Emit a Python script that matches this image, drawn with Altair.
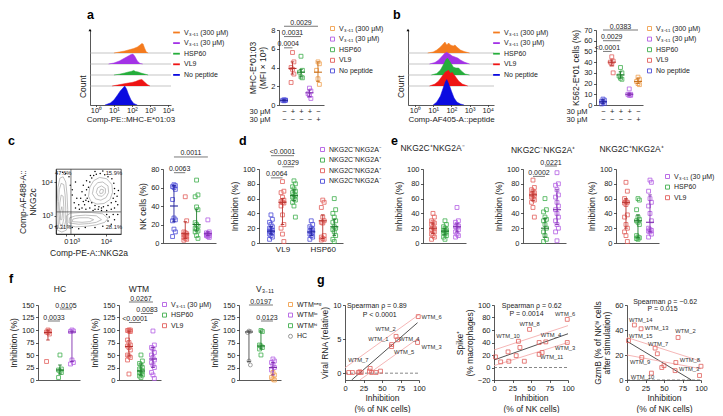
import json
import altair as alt
import pandas as pd

FONT = "Liberation Sans"
INK = "#1c1c1c"

V30 = "V₃₋₁₁ (30 μM)"
V300 = "V₃₋₁₁ (300 μM)"
NOPEP = "No peptide"
C_PN = "NKG2C⁺NKG2A⁻"
C_PP = "NKG2C⁺NKG2A⁺"
C_NP = "NKG2C⁻NKG2A⁺"
C_NN = "NKG2C⁻NKG2A⁻"
W_NEG = "WTMⁿᵉᵍ"
W_LO = "WTMˡᵒ"
W_HI = "WTMʰⁱ"

# point colour, error-bar colour
PAL = {
    NOPEP: ("#4d4dd8", "#23239c"), "VL9": ("#e25f5c", "#b8322e"),
    "HSP60": ("#3fae4d", "#1f7a2c"), V30: ("#b25de3", "#7f2fae"),
    V300: ("#f0a04e", "#c9731f"), C_PN: ("#4d4dd8", "#23239c"),
    C_PP: ("#e25f5c", "#b8322e"), C_NP: ("#3fae4d", "#1f7a2c"),
    C_NN: ("#b25de3", "#7f2fae"), W_NEG: ("#f0a04e", "#c9731f"),
    W_LO: ("#b25de3", "#7f2fae"), W_HI: ("#3fae4d", "#1f7a2c"),
    "HC": ("#8a8a8a", "#4a4a4a"),
}

# ---------------- histograms (a, b) ----------------
HIST_ORDER = [V300, V30, "HSP60", "VL9", NOPEP]
HIST_FILL = ["#f47b1e", "#a332e6", "#25ad3b", "#ee1414", "#0b0be0"]
HIST_BASE = [52, 41, 30, 19, 0]

ha_x = {
    V300: [1.0, 1.3, 1.6, 1.9, 2.1, 2.3, 2.45, 2.55, 2.62, 2.7, 2.8, 2.9],
    V30: [0.7, 1.0, 1.3, 1.5, 1.7, 1.85, 1.95, 2.05, 2.15, 2.3, 2.45, 2.6],
    "HSP60": [1.0, 1.3, 1.6, 1.8, 1.95, 2.1, 2.2, 2.35, 2.5, 2.7, 2.9],
    "VL9": [0.9, 1.2, 1.5, 1.8, 2.0, 2.2, 2.4, 2.55, 2.7, 2.85, 3.0],
    NOPEP: [0.5, 0.8, 1.0, 1.2, 1.35, 1.5, 1.6, 1.7, 1.8, 1.95, 2.1, 2.3],
}
ha_h = {
    V300: [0, 1, 2, 3.5, 4.5, 6, 8, 9.5, 9, 5, 1, 0],
    V30: [0, 1, 3, 5, 7, 8.5, 9.5, 10, 8, 3, 0.5, 0],
    "HSP60": [0, 0.8, 2, 3, 3.5, 4.5, 3.5, 3, 2, 1, 0],
    "VL9": [0, 1, 2, 3, 3.5, 4.5, 6, 6.5, 4, 1.5, 0],
    NOPEP: [0, 2, 5, 10, 14, 17, 19, 16, 11, 5, 1.5, 0],
}
hb_x = {
    V300: [0.7, 1.0, 1.2, 1.4, 1.55, 1.65, 1.75, 1.85, 1.95, 2.1, 2.2, 2.3, 2.5, 2.7, 3.0],
    V30: [0.8, 1.1, 1.3, 1.5, 1.65, 1.75, 1.9, 2.05, 2.2, 2.35, 2.5, 2.7, 3.0],
    "HSP60": [0.9, 1.2, 1.4, 1.55, 1.7, 1.8, 1.95, 2.1, 2.25, 2.4, 2.55, 2.75, 3.0],
    "VL9": [0.8, 1.1, 1.3, 1.5, 1.65, 1.75, 1.85, 1.95, 2.05, 2.2, 2.4, 2.6, 2.9],
    NOPEP: [1.0, 1.2, 1.4, 1.55, 1.65, 1.75, 1.85, 2.0, 2.15, 2.3, 2.5, 2.7],
}
hb_h = {
    V300: [0, 1, 3, 6, 9, 11, 8, 10, 8, 7, 8, 6, 3, 1.5, 0],
    V30: [0, 1.5, 4, 8, 11, 12, 10, 8, 7, 6, 4, 2, 0],
    "HSP60": [0, 1.5, 5, 10, 16, 17, 13, 8, 7, 7, 4, 1, 0],
    "VL9": [0, 2, 5, 10, 14, 15, 16, 13, 14, 10, 5, 2, 0],
    NOPEP: [0, 3, 9, 17, 23, 26, 22, 14, 7, 3, 1, 0],
}
SUP = ["⁰", "¹", "²", "³", "⁴"]

# ---------------- dot plots a, b ----------------
ab_cats = [NOPEP, "VL9", "HSP60", V30, V300]
ab_x = [1, 2, 3, 4, 5]
ab_legend = [V300, V30, "HSP60", "VL9", NOPEP]
sign_row1 = ["−", "+", "+", "+", "−"]
sign_row2 = ["−", "−", "−", "−", "+"]
conc_label = "30 μM"

a_vals = [[0.45, 0.5, 0.5, 0.55, 0.52], [5.6, 4.6, 4.0, 3.8, 3.3, 2.4], [5.2, 3.7, 3.5, 3.0, 2.9],
          [1.8, 1.5, 1.2, 1.0, 0.7], [4.6, 4.4, 3.7, 2.8, 2.2]]
a_c = [0.5, 3.9, 3.5, 1.3, 3.5]
a_lo = [0.45, 3.3, 3.0, 0.9, 2.5]
a_hi = [0.55, 4.6, 3.8, 1.6, 4.6]
a_br = {"a": [1, 1, 1], "b": [2, 3, 5], "y": [6.1, 7.3, 8.4], "lab": ["0.0004", "0.0031", "0.0029"]}

b_vals = [[5.5, 4.5, 3.5, 2.5, 1.5, 1.0], [45, 41, 40, 38, 30], [35, 30, 27, 25, 24],
          [15, 10, 10, 9, 9], [26, 24, 22, 20, 19]]
b_c = [3, 40, 28, 10, 22]
b_lo = [1.5, 37, 25, 9, 20]
b_hi = [5, 42, 31, 11, 25]
b_br = {"a": [1, 1, 1], "b": [2, 3, 5], "y": [50, 60, 70], "lab": ["<0.0001", "0.0029", "0.0383"]}

# ---------------- c ----------------
c_rings = [
    [(2, 6), (1, 25), (2, 50), (3, 72), (6, 86), (11, 88), (15, 80), (17, 60), (18, 38), (18, 18), (16, 6), (9, 3)],
    [(4, 10), (3, 28), (4, 50), (5, 68), (8, 78), (12, 76), (14, 60), (15, 40), (15, 20), (12, 9), (7, 8)],
    [(6, 15), (5, 30), (6, 48), (8, 60), (11, 58), (12, 42), (12, 24), (10, 14)],
    [(7, 22), (7, 35), (9, 42), (10, 32), (9, 22)],
    [(16, 14), (30, 11), (48, 12), (62, 14), (75, 18), (80, 24), (72, 31), (55, 33), (38, 33), (22, 32), (16, 28)],
    [(20, 17), (35, 15), (50, 16), (62, 18), (70, 22), (62, 28), (45, 29), (30, 28), (21, 25)],
    [(25, 19), (40, 18), (52, 19), (58, 22), (50, 25), (36, 25), (26, 23)],
    [(50, 58), (52, 72), (58, 82), (67, 87), (78, 85), (86, 76), (87, 64), (83, 53), (74, 47), (63, 46), (54, 50)],
    [(56, 62), (58, 72), (64, 79), (72, 80), (80, 74), (81, 64), (77, 56), (69, 52), (61, 54)],
    [(62, 64), (64, 71), (70, 74), (76, 70), (76, 63), (71, 58), (65, 59)],
    [(67, 65), (69, 69), (73, 68), (72, 63), (68, 62)],
]
c_dot_x = [45, 47, 48, 50, 52, 55, 58, 62, 68, 75, 80, 86, 89, 90, 90, 88, 85, 80, 73, 66, 60, 55, 50, 46,
           44, 40, 36, 35, 42, 38, 92, 95, 90, 85, 78, 70, 60, 52, 46, 30, 28, 32, 25, 40, 42, 47, 53, 94,
           96, 60, 72, 20, 22, 25, 30, 10, 15, 78, 82, 88, 80, 72, 60, 45, 85, 90, 95, 35, 25, 65, 70, 57]
c_dot_y = [60, 68, 55, 72, 80, 86, 90, 92, 93, 91, 88, 85, 78, 70, 62, 55, 48, 44, 42, 42, 44, 48, 50, 52,
           45, 40, 38, 45, 50, 55, 50, 45, 40, 38, 36, 36, 38, 40, 38, 40, 48, 55, 60, 65, 75, 82, 90, 58,
           67, 96, 97, 88, 75, 68, 80, 95, 93, 30, 26, 30, 20, 12, 10, 10, 15, 22, 30, 8, 10, 38, 40, 36]
c_gate_x = [23]
c_gate_y = [34]
c_pct = ["47.6%", "15.9%", "6.31%", "28.1%"]
c_pct_x = [11, 89, 11, 89]
c_pct_y = [94, 94, 11, 11]
c_xt, c_xl = [15, 28, 77], ["0", "10³", "10⁴"]
c_yt, c_yl = [12, 28, 80], ["0", "10³", "10⁴"]

nk_cats = [C_PN, C_PP, C_NP, C_NN]
nk_vals = [[63, 62, 61, 60, 58, 47, 27, 25, 24, 15, 12, 7],
           [50, 24, 12, 11, 10, 9, 8, 7, 6, 5, 4, 3],
           [68, 52, 50, 39, 36, 22, 20, 18, 16, 15, 13, 12, 8, 5],
           [25, 12, 11, 10, 10, 9, 9, 8, 8, 7, 6]]
nk_c = [40, 10, 20, 10]
nk_lo = [23, 5, 13, 8]
nk_hi = [62, 23, 36, 12]
nk_br = {"a": [1, 1], "b": [2, 4], "y": [76, 93], "lab": ["0.0063", "0.0011"]}

# ---------------- d ----------------
d_cats = [C_PN, C_PP, C_NP, C_PN, C_PP, C_NP]
d_x = [1, 2, 3, 4.5, 5.5, 6.5]
d_cond = ["VL9", "HSP60"]
d_cond_x = [2, 5.5]
d_vals = [[38, 32, 28, 25, 22, 20, 19, 17, 16, 15, 14, 12, 10, 8, 5],
          [83, 70, 68, 62, 58, 56, 55, 54, 50, 38, 25, 20, 12, 2],
          [84, 80, 76, 73, 70, 68, 66, 64, 62, 60, 58, 55, 50, 35],
          [30, 25, 22, 20, 18, 16, 15, 14, 12, 10, 8, 5],
          [58, 55, 48, 35, 30, 28, 27, 10, 8, 6, 5, 4],
          [60, 45, 40, 35, 30, 28, 22, 20, 18, 15, 10, 5, 2]]
d_c = [16, 55, 64, 15, 30, 22]
d_lo = [12, 25, 57, 10, 6, 10]
d_hi = [22, 60, 72, 20, 38, 32]
d_legend = [C_NN, C_NP, C_PP, C_PN]
d_br = {"a": [1, 2, 1], "b": [2, 3, 3], "y": [88, 103, 118], "lab": ["0.0064", "0.0329", "<0.0001"]}

# ---------------- e ----------------
e_cats = ["VL9", "HSP60", V30]
e_legend = [V30, "HSP60", "VL9"]
e1_vals = [[40, 35, 30, 28, 27, 25, 22, 20, 18, 16, 15, 12, 10, 8, 5],
           [30, 25, 22, 20, 18, 17, 16, 15, 14, 12, 10, 8, 5],
           [48, 30, 28, 25, 23, 22, 20, 18, 15, 12, 10, 8]]
e1_c, e1_lo, e1_hi = [20, 16, 22], [13, 11, 15], [27, 20, 26]
e2_vals = [[85, 75, 72, 70, 68, 66, 65, 64, 62, 60, 58, 55, 48, 35],
           [60, 45, 42, 35, 32, 30, 25, 20, 15, 10, 5, 2],
           [95, 80, 78, 72, 65, 62, 55, 50, 45, 40, 35, 30, 25, 20, 15, 3]]
e2_c, e2_lo, e2_hi = [65, 20, 45], [57, 8, 25], [70, 33, 72]
e2_br = {"a": [1, 2], "b": [2, 3], "y": [90, 104], "lab": ["0.0002", "0.0221"]}
e3_vals = [[82, 70, 60, 56, 55, 54, 52, 38, 35, 25, 20, 15, 10, 2],
           [60, 58, 45, 35, 32, 30, 28, 25, 10, 8, 7, 6, 5],
           [85, 82, 70, 60, 55, 50, 40, 30, 20, 18, 17, 16, 15, 12, 8]]
e3_c, e3_lo, e3_hi = [55, 30, 28], [20, 7, 15], [60, 38, 65]
e_titles = ["NKG2C⁺NKG2A⁻", "NKG2C⁻NKG2A⁺", "NKG2C⁺NKG2A⁺"]

# ---------------- f ----------------
f1_vals = [[100, 98, 96, 95, 92, 37], [50, 22, 20, 18, 15, 5], [100, 98, 97, 40, 35, 32]]
f1_c, f1_lo, f1_hi = [95, 20, 96], [80, 12, 37], [100, 30, 98]
f1_br = {"a": [1, 2], "b": [2, 3], "y": [118, 142], "lab": ["0.0033", "0.0105"]}
f2_vals = [[100, 100, 99, 98, 97, 80, 75, 70, 68, 65, 60, 50, 48, 45, 40, 12],
           [50, 38, 33, 30, 25, 22, 20, 18, 15, 12, 10, 8, 5],
           [98, 70, 65, 62, 55, 50, 45, 40, 35, 30, 25, 15, 10, 3]]
f2_c, f2_lo, f2_hi = [67, 18, 42], [48, 10, 25], [98, 32, 65]
f2_br = {"a": [1, 2, 1], "b": [2, 3, 3], "y": [115, 133, 156], "lab": ["<0.0001", "0.0083", "0.0267"]}
f3_cats = ["HC", W_HI, W_LO, W_NEG]
f3_x = [1, 2, 3, 3]
f3_vals = [[98, 97, 95, 38, 30], [99, 97, 70, 68, 65, 62, 50], [42, 38, 35, 30, 25, 20], [15, 10, 5, 2, 0]]
f3_scats = ["HC", W_HI, W_LO]
f3_c, f3_lo, f3_hi = [96, 68, 25], [37, 62, 10], [98, 98, 35]
f3_legend = [W_NEG, W_LO, W_HI, "HC"]
f3_shapes = {W_NEG: "square", W_LO: "square", W_HI: "square", "HC": "circle"}
f3_br = {"a": [2, 1], "b": [3, 3], "y": [118, 150], "lab": ["0.0123", "0.0197"]}
f_titles = ["HC", "WTM", "V₃₋₁₁"]

# ---------------- g ----------------
g1_x = [99, 69, 71, 63, 63, 98, 34, 5, 10, 18, 20, 22, 33, 36, 42, 48]
g1_y = [8.3, 5.4, 4.9, 4.2, 3.9, 4.5, 0.7, 0.1, 0.1, 0.1, 0.2, 0.1, 0.3, 0.1, 0.1, 0.3]
g1_lab = ["WTM_6", "WTM_2", "WTM_4", "WTM_1", "WTM_5", "WTM_3", "WTM_7"]
g1_lab_x = [117, 55, 87, 45, 80, 117, 18]
g1_lab_y = [8.2, 6.5, 5.0, 5.0, 3.1, 3.9, 1.9]
g1_lines = {"fit": [(9, -1), (98, 7.4)], "up": [(0, 0.8), (100, 8.6)], "lo": [(20, -1), (100, 5.2)]}
g1_stats = ["Spearman ρ = 0.89", "P < 0.0001"]
g1_stats_x, g1_stats_y = [43, 47], [9.8, 8.5]

g2_x = [99, 48, 33, 70, 99, 65, 2, 9, 19, 20, 30, 35, 41, 61, 61]
g2_y = [77, 61, 42, 41, 40, 24, 17, 9, 25, 10, 19, 32, 10, 40, 21]
g2_lab = ["WTM_6", "WTM_8", "WTM_10", "WTM_4", "WTM_3", "WTM_11"]
g2_lab_x = [96, 48, 19, 77, 96, 78]
g2_lab_y = [86, 70, 51, 52, 31, 17]
g2_lines = {"fit": [(0, 12), (100, 54)], "up": [(0, 28), (100, 67)], "lo": [(0, 3), (100, 40)]}
g2_stats = ["Spearman ρ = 0.62", "P = 0.0014"]
g2_stats_x, g2_stats_y = [51, 44], [99, 86]

g3_x = [10, 19, 69, 2, 38, 41, 100, 20, 98, 33, 47, 50, 65, 66]
g3_y = [44, 41, 34, 31.5, 25.5, 21, 11, 18, 3.6, 5.5, 10, 11.5, 7.5, 14]
g3_lab = ["WTM_14", "WTM_13", "WTM_2", "WTM_15", "WTM_7", "WTM_8", "WTM_9", "WTM_3", "WTM_10"]
g3_lab_x = [18.5, 40, 79, 18.5, 42, 85, 17.6, 84, 21]
g3_lab_y = [48, 41.6, 39, 35.3, 28.7, 16, 14.2, 8.8, 2.5]
g3_lines = {"fit": [(0, 31), (87, 0)], "up": [(0, 34), (100, 15)], "lo": [(0, 20), (100, 9)]}
g3_stats = ["Spearman ρ = −0.62", "P = 0.015"]
g3_stats_x, g3_stats_y = [51.5, 48], [62.5, 57]


# =================== builders ===================
def spacer(w, h, title=None):
    df = pd.DataFrame({"v": [0.0]})
    ch = alt.Chart(df).mark_point(opacity=0).encode(
        x=alt.X("v:Q", axis=None, scale=alt.Scale(domain=[-1, 1])),
        y=alt.Y("v:Q", axis=None, scale=alt.Scale(domain=[-1, 1])),
    )
    if title is not None:
        return ch.properties(width=w, height=h, title=title)
    return ch.properties(width=w, height=h)


def letter(t, anchor, dx, offset):
    return alt.TitleParams(text=t, anchor=anchor, frame="group", dx=dx, offset=offset,
                           baseline="alphabetic", align="left", fontSize=12.5,
                           fontWeight="bold", color="#000000")


def ptitle(t, anchor, dx, offset):
    return alt.TitleParams(text=t, anchor=anchor, frame="group", dx=dx, offset=offset,
                           baseline="alphabetic", align="center", fontSize=8.5,
                           fontWeight="normal", color=INK)


def legend_at(x, y, stroke=False):
    kw = dict(orient="none", legendX=x, legendY=y, title=None, labelFontSize=7,
              rowPadding=1.6, labelOffset=3, labelColor=INK, labelLimit=0, padding=0)
    if stroke:
        kw.update(symbolType="stroke", symbolStrokeWidth=1.8, symbolSize=45)
    else:
        kw.update(symbolSize=16, symbolStrokeWidth=0.9)
    return alt.Legend(**kw)


def tern(vals, labs):
    expr = json.dumps(labs[-1], ensure_ascii=False)
    for v, l in reversed(list(zip(vals[:-1], labs[:-1]))):
        expr = f"datum.value == {v} ? {json.dumps(l, ensure_ascii=False)} : ({expr})"
    return expr


def hist_chart(xs, hs, xdom, xtitle, leg_x, w, h=75):
    xsc = alt.Scale(domain=xdom, nice=False, zero=False)
    ysc = alt.Scale(domain=[0, 75], nice=False, zero=False)
    xax = alt.Axis(values=[0, 1, 2, 3, 4],
                   labelExpr="'10' + " + json.dumps(SUP, ensure_ascii=False) + "[datum.value]",
                   title=xtitle, tickSize=1.5, labelPadding=0, titlePadding=1, titleFontSize=8)
    yax = alt.Axis(title="Count", labels=False, ticks=False, titleX=-3, titleY=h * 0.75)
    cscale = alt.Scale(domain=HIST_ORDER, range=HIST_FILL)
    rows = []
    for s, b in zip(HIST_ORDER, HIST_BASE):
        for x, hh in zip(xs[s], hs[s]):
            rows.append({"s": s, "x": x, "b": b, "top": b + hh})
    df = pd.DataFrame(rows)
    X = alt.X("x:Q", scale=xsc, axis=xax)
    layers = [
        alt.Chart(pd.DataFrame({"b": HIST_BASE[:-1]})).mark_rule(color="#a0a0a0", strokeWidth=0.6)
        .encode(y=alt.Y("b:Q", scale=ysc, axis=yax)),
        alt.Chart(df).mark_line(strokeWidth=0.5).encode(
            x=X, y=alt.Y("top:Q", scale=ysc, axis=yax),
            color=alt.Color("s:N", scale=cscale, legend=legend_at(leg_x, -2, stroke=True))),
    ]
    for s in HIST_ORDER:
        layers.append(alt.Chart(df[df.s == s]).mark_area(opacity=1).encode(
            x=X, y=alt.Y("top:Q", scale=ysc, axis=yax), y2="b:Q",
            color=alt.Color("s:N", scale=cscale, legend=None)))
    arrow = pd.DataFrame({"x": [xdom[0]], "y": [75]})
    layers.append(alt.Chart(arrow).mark_point(shape="triangle-up", filled=True, size=9,
                                              color="#000", opacity=1)
                  .encode(x=X, y=alt.Y("y:Q", scale=ysc, axis=yax)))
    return alt.layer(*layers).properties(width=w, height=h)


def dot_chart(cats, xpos, vals, s_cats, s_x, s_c, s_lo, s_hi, br, xdom, ydom, yticks, w, h,
              ytitle, xaxis=None, leg_dom=None, leg_xy=None, shapes=None, title=None):
    ppu = w / (xdom[1] - xdom[0])
    hw, cap, jit = 4.0 / ppu, 1.8 / ppu, 1.4 / ppu
    xsc = alt.Scale(domain=xdom, nice=False, zero=False)
    ysc = alt.Scale(domain=ydom, nice=False, zero=False)
    if xaxis is None:
        xaxis = alt.Axis(labels=False, ticks=False, title=None)
    yax = alt.Axis(values=yticks, title=ytitle)
    dom = leg_dom if leg_dom else list(dict.fromkeys(cats))
    cscale = alt.Scale(domain=dom, range=[PAL[c][0] for c in dom])
    sscale = alt.Scale(domain=dom, range=[PAL[c][1] for c in dom])

    def X(f):
        return alt.X(f, type="quantitative", scale=xsc, axis=xaxis)

    def Y(f):
        return alt.Y(f, type="quantitative", scale=ysc, axis=yax)

    pts = pd.DataFrame([{"cat": c, "x": x, "v": v} for c, x, vs in zip(cats, xpos, vals) for v in vs])
    summ = pd.DataFrame({"cat": s_cats, "x": s_x, "c": s_c, "lo": s_lo, "hi": s_hi})
    brd = pd.DataFrame(br)
    leg = legend_at(*leg_xy) if leg_xy else None
    enc = dict(x=X("xj"), y=Y("v"), color=alt.Color("cat:N", scale=cscale, legend=leg))
    if shapes:
        enc["shape"] = alt.Shape("cat:N", scale=alt.Scale(domain=dom, range=[shapes[c] for c in dom]),
                                 legend=leg)
        pm = dict(filled=False, size=15, strokeWidth=0.8, opacity=1)
    else:
        pm = dict(filled=False, size=15, strokeWidth=0.8, opacity=1, shape="square")
    points = (alt.Chart(pts)
              .transform_window(rn="row_number()", groupby=["x"])
              .transform_calculate(xj=f"datum.x + ((datum.rn % 3) - 1) * {jit:.4f}")
              .mark_point(**pm).encode(**enc))
    stroke = alt.Stroke("cat:N", scale=sscale, legend=None)
    S = alt.Chart(summ)
    vbar = S.mark_rule(strokeWidth=0.9).encode(x=X("x"), y=Y("lo"), y2="hi", stroke=stroke)
    cl = (S.transform_calculate(x1=f"datum.x - {hw:.4f}", x2=f"datum.x + {hw:.4f}")
          .mark_rule(strokeWidth=1.1).encode(x=X("x1"), x2="x2", y=Y("c"), stroke=stroke))
    capl = (S.transform_calculate(x1=f"datum.x - {cap:.4f}", x2=f"datum.x + {cap:.4f}")
            .mark_rule(strokeWidth=0.9).encode(x=X("x1"), x2="x2", y=Y("lo"), stroke=stroke))
    caph = (S.transform_calculate(x1=f"datum.x - {cap:.4f}", x2=f"datum.x + {cap:.4f}")
            .mark_rule(strokeWidth=0.9).encode(x=X("x1"), x2="x2", y=Y("hi"), stroke=stroke))
    layers = [points, vbar, cl, capl, caph]
    if len(brd):
        B = alt.Chart(brd)
        layers.append(B.mark_rule(color=INK, strokeWidth=0.6).encode(x=X("a"), x2="b", y=Y("y")))
        layers.append(B.transform_calculate(m="(datum.a + datum.b) / 2")
                      .mark_text(fontSize=7, baseline="bottom", dy=-0.5, color=INK)
                      .encode(x=X("m"), y=Y("y"), text="lab:N"))
    ch = alt.layer(*layers)
    if title is not None:
        return ch.properties(width=w, height=h, title=title)
    return ch.properties(width=w, height=h)


def sign_axis(s1, s2):
    arr = [[p, q] for p, q in zip(s1, s2)]
    return alt.Axis(values=list(range(1, len(s1) + 1)),
                    labelExpr=json.dumps(arr, ensure_ascii=False) + "[datum.value - 1]",
                    labelLineHeight=8, labelBaseline="top", labelPadding=2, ticks=False, tickSize=0,
                    labelFontSize=7.5, title=[conc_label, conc_label], titleX=-9, titleY=2,
                    titleAlign="right", titleBaseline="top", titleFontSize=7.5,
                    titleFontWeight="normal", titleLineHeight=8, titleAngle=0)


def contour_chart(w, h):
    xsc = alt.Scale(domain=[0, 100], nice=False, zero=False)
    ysc = alt.Scale(domain=[0, 100], nice=False, zero=False)
    xax = alt.Axis(values=c_xt, labelExpr=tern(c_xt, c_xl), title="Comp-PE-A::NKG2a",
                   labelOverlap=False, tickSize=2)
    yax = alt.Axis(values=c_yt, labelExpr=tern(c_yt, c_yl), title=["Comp-AF488-A::", "NKG2c"],
                   labelOverlap=False, tickSize=2)
    X = lambda f: alt.X(f, type="quantitative", scale=xsc, axis=xax)
    Y = lambda f: alt.Y(f, type="quantitative", scale=ysc, axis=yax)
    rows = [{"ring": i, "o": k, "x": x, "y": y} for i, r in enumerate(c_rings) for k, (x, y) in enumerate(r)]
    rings = alt.Chart(pd.DataFrame(rows)).mark_line(interpolate="linear-closed", color="#a5a5a5",
                                                     strokeWidth=0.7).encode(
        x=X("x"), y=Y("y"), detail="ring:N", order="o:Q")
    dots = alt.Chart(pd.DataFrame({"x": c_dot_x, "y": c_dot_y})).mark_circle(
        size=2.2, color="#000", opacity=1).encode(x=X("x"), y=Y("y"))
    gx = alt.Chart(pd.DataFrame({"x": c_gate_x})).mark_rule(color="#444", strokeWidth=0.7).encode(x=X("x"))
    gy = alt.Chart(pd.DataFrame({"y": c_gate_y})).mark_rule(color="#444", strokeWidth=0.7).encode(y=Y("y"))
    pct = alt.Chart(pd.DataFrame({"t": c_pct, "x": c_pct_x, "y": c_pct_y})).mark_text(
        fontSize=5.8, color=INK).encode(x=X("x"), y=Y("y"), text="t:N")
    return alt.layer(rings, dots, gx, gy, pct).properties(
        width=w, height=h, view=alt.ViewBackground(stroke="#111", strokeWidth=0.7))


def g_chart(px, py, lab, lab_x, lab_y, lines, stats, sx, sy, ydom, yvals, ytitle, w, h, title=None):
    xsc = alt.Scale(domain=[0, 100], nice=False, zero=False)
    ysc = alt.Scale(domain=ydom, nice=False, zero=False)
    xax = alt.Axis(values=[0, 25, 50, 75, 100], title=["Inhibition", "(% of NK cells)"],
                   titleLineHeight=10.5, titlePadding=2, titleFontSize=8.5)
    yax = alt.Axis(values=yvals, title=ytitle, titleLineHeight=9.5)
    X = lambda f: alt.X(f, type="quantitative", scale=xsc, axis=xax)
    Y = lambda f: alt.Y(f, type="quantitative", scale=ysc, axis=yax)
    zero = alt.Chart(pd.DataFrame({"x0": [0], "x1": [100], "y": [0]})).mark_rule(
        color="#555", strokeWidth=0.7, strokeDash=[3, 2]).encode(x=X("x0"), x2="x1", y=Y("y"))
    lrows = [{"line": k, "x": x, "y": y} for k, seg in lines.items() for (x, y) in seg]
    lns = alt.Chart(pd.DataFrame(lrows)).mark_line(clip=True, strokeWidth=0.8).encode(
        x=X("x"), y=Y("y"), detail="line:N",
        stroke=alt.Stroke("line:N", scale=alt.Scale(domain=["fit", "up", "lo"],
                                                    range=["#262626", "#f2a3a3", "#f2a3a3"]), legend=None))
    pts = alt.Chart(pd.DataFrame({"x": px, "y": py})).mark_point(
        shape="square", filled=False, size=15, strokeWidth=0.8, color="#e0605c", opacity=1).encode(
        x=X("x"), y=Y("y"))
    labs = alt.Chart(pd.DataFrame({"t": lab, "x": lab_x, "y": lab_y})).mark_text(
        fontSize=5.8, color="#333").encode(x=X("x"), y=Y("y"), text="t:N")
    st = alt.Chart(pd.DataFrame({"t": stats, "x": sx, "y": sy})).mark_text(
        fontSize=7, color=INK).encode(x=X("x"), y=Y("y"), text="t:N")
    ch = alt.layer(zero, lns, pts, labs, st)
    if title is not None:
        return ch.properties(width=w, height=h, title=title)
    return ch.properties(width=w, height=h)


# =================== panels ===================
H1, H2, H3 = 75, 74, 75

histA = hist_chart(ha_x, ha_h, [-0.33, 4.17], "Comp-PE::MHC-E*01:03", 82, 81)
histB = hist_chart(hb_x, hb_h, [-0.38, 4.34], "Comp-AF405-A::peptide", 84, 86)
dotA = dot_chart(ab_cats, ab_x, a_vals, ab_cats, ab_x, a_c, a_lo, a_hi, a_br, [0.41, 5.71], [0, 8],
                 [0, 2, 4, 6, 8], 45, H1, ["MHC-E*01:03", "(MFI × 10³)"],
                 xaxis=sign_axis(sign_row1, sign_row2), leg_dom=ab_legend, leg_xy=(50, -5))
dotB = dot_chart(ab_cats, ab_x, b_vals, ab_cats, ab_x, b_c, b_lo, b_hi, b_br, [0.2, 5.57], [0, 70],
                 list(range(0, 71, 10)), 47, H1, "K562-E*01 cells (%)",
                 xaxis=sign_axis(sign_row1, sign_row2), leg_dom=ab_legend, leg_xy=(50, -5))

contour = contour_chart(65, 65)
dotC = dot_chart(nk_cats, [1, 2, 3, 4], nk_vals, nk_cats, [1, 2, 3, 4], nk_c, nk_lo, nk_hi, nk_br,
                 [0.03, 4.72], [0, 80], [0, 20, 40, 60, 80], 53, H2, "NK cells (%)")
d_axis = alt.Axis(values=d_cond_x, labelExpr=tern(d_cond_x, d_cond), ticks=False, tickSize=0,
                  title=None, labelFontSize=8, labelPadding=2)
dotD = dot_chart(d_cats, d_x, d_vals, d_cats, d_x, d_c, d_lo, d_hi, d_br, [-0.04, 7.26], [0, 100],
                 [0, 20, 40, 60, 80, 100], 84, H2, "Inhibition (%)", xaxis=d_axis,
                 leg_dom=d_legend, leg_xy=(60, -23))
EX = [1, 2, 3]
EDOM = [0.17, 3.75]
empty_br = {"a": [], "b": [], "y": [], "lab": []}
e1 = dot_chart(e_cats, EX, e1_vals, e_cats, EX, e1_c, e1_lo, e1_hi, empty_br, EDOM, [0, 100],
               [0, 20, 40, 60, 80, 100], 43, H2, "Inhibition (%)", leg_dom=e_legend,
               title=ptitle(e_titles[0], "middle", -12, 6))
e2 = dot_chart(e_cats, EX, e2_vals, e_cats, EX, e2_c, e2_lo, e2_hi, e2_br, EDOM, [0, 100],
               [0, 20, 40, 60, 80, 100], 43, H2, "Inhibition (%)", leg_dom=e_legend)
e3 = dot_chart(e_cats, EX, e3_vals, e_cats, EX, e3_c, e3_lo, e3_hi, empty_br, EDOM, [0, 100],
               [0, 20, 40, 60, 80, 100], 43, H2, "Inhibition (%)", leg_dom=e_legend, leg_xy=(48, 4),
               title=ptitle(e_titles[2], "middle", -6, 5))

FDOM = [0.17, 3.67]
FT = [0, 25, 50, 75, 100, 125, 150]
f1 = dot_chart(e_cats, EX, f1_vals, e_cats, EX, f1_c, f1_lo, f1_hi, f1_br, FDOM, [0, 150], FT, 42, H3,
               "Inhibition (%)", leg_dom=e_legend)
f2 = dot_chart(e_cats, EX, f2_vals, e_cats, EX, f2_c, f2_lo, f2_hi, f2_br, FDOM, [0, 150], FT, 42, H3,
               "Inhibition (%)", leg_dom=e_legend, leg_xy=(42, -4))
f3 = dot_chart(f3_cats, f3_x, f3_vals, f3_scats, EX, f3_c, f3_lo, f3_hi, f3_br, FDOM, [0, 150], FT, 42, H3,
               "Inhibition (%)", leg_dom=f3_legend, leg_xy=(48, -4), shapes=f3_shapes)
g1 = g_chart(g1_x, g1_y, g1_lab, g1_lab_x, g1_lab_y, g1_lines, g1_stats, g1_stats_x, g1_stats_y,
             [-1, 10], [0, 5, 10], "Viral RNA (relative)", 74, H3,
             title=alt.TitleParams(text="g", anchor="start", frame="group", dx=-28, offset=5,
                                   baseline="alphabetic", align="left", fontSize=12.5,
                                   fontWeight="bold", color="#000"))
g2 = g_chart(g2_x, g2_y, g2_lab, g2_lab_x, g2_lab_y, g2_lines, g2_stats, g2_stats_x, g2_stats_y,
             [-20, 100], [-20, 0, 20, 40, 60, 80, 100], ["Spike⁺", "(% macrophages)"], 74, H3)
g3 = g_chart(g3_x, g3_y, g3_lab, g3_lab_x, g3_lab_y, g3_lines, g3_stats, g3_stats_x, g3_stats_y,
             [0, 60], [0, 20, 40, 60], ["GzmB (% of NKʰⁱ cells", "after stimulation)"], 74, H3)

# first spacer of a row fixes the row's bottom extent (rows are stacked on full bounds)
ROW1_EXT, ROW2_EXT = 104, 103

row1 = [spacer(81, ROW1_EXT, letter("a", "end", -3, -1.5)), histA, spacer(108, H1), dotA,
        spacer(84, H1, letter("b", "end", -15, -1)), histB, spacer(102, H1), dotB]
row2 = [spacer(47, ROW2_EXT, letter("c", "start", -1, 12)), contour, spacer(42, H2), dotC,
        spacer(43, H2, letter("d", "end", -20, 12)), dotD,
        spacer(80, H2, letter("e", "end", -32, 12)), e1,
        spacer(57, H2, ptitle(e_titles[1], "end", 20, 8)), e2, spacer(50, H2), e3]
row3 = [spacer(29, H3, letter("f", "end", -29, 10)), f1,
        spacer(39, H3, ptitle(f_titles[0], "start", -20, 5)), f2,
        spacer(78, H3, ptitle(f_titles[1], "start", -22, 5)), f3,
        spacer(64, H3, ptitle(f_titles[2], "start", -16, 5)), g1,
        spacer(75, H3), g2, spacer(59, H3), g3]


def make_row(items):
    return alt.HConcatChart(hconcat=items, spacing=0, bounds="flush").resolve_scale(
        color="independent", shape="independent", stroke="independent")


chart = alt.VConcatChart(vconcat=[make_row(row1), make_row(row2), make_row(row3)], spacing=0, padding=0)
chart = chart.resolve_scale(color="independent", shape="independent", stroke="independent")
chart = chart.configure(font=FONT).configure_view(stroke=None).configure_axis(
    domainColor="#111", domainWidth=0.7, tickColor="#111", tickWidth=0.7, tickSize=2.5,
    labelFontSize=7.5, labelColor=INK, titleFontSize=8.5, titleColor=INK, titleFontWeight="normal",
    grid=False, labelPadding=1.5, titlePadding=3, labelFlush=False
).configure_legend(labelColor=INK, labelFont=FONT).configure_title(font=FONT)

chart.save("out.html", embed_options={"renderer": "svg", "actions": False})
